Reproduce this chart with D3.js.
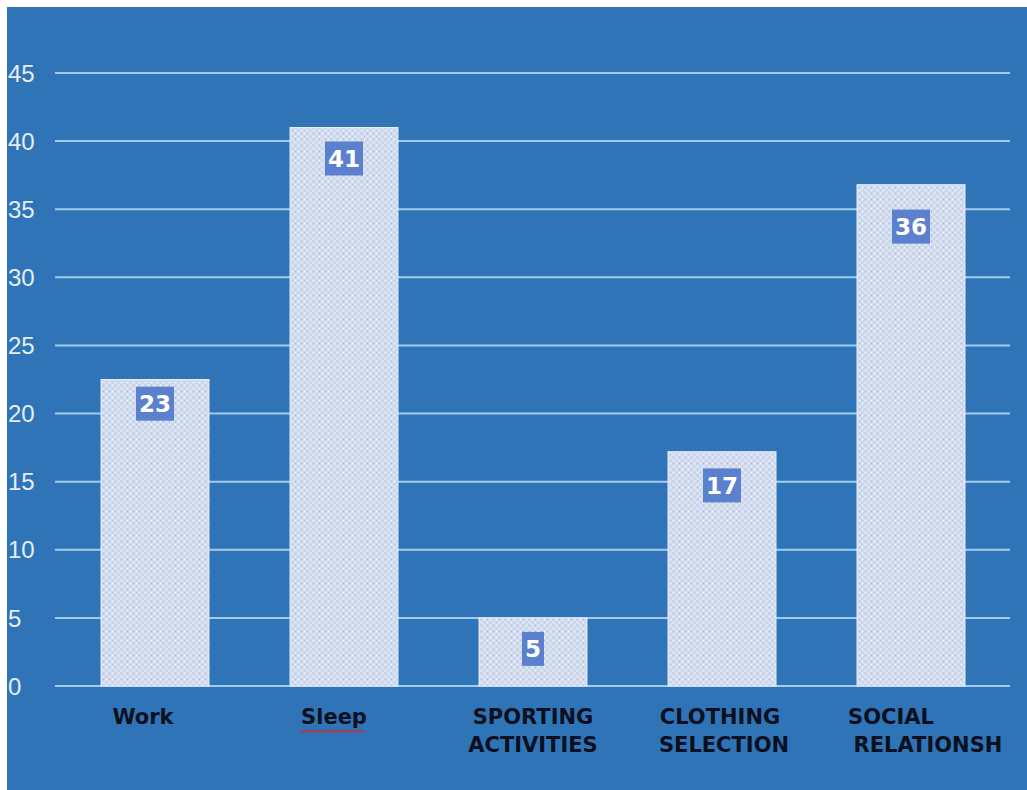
<!DOCTYPE html>
<html><head><meta charset="utf-8">
<script src="https://cdn.jsdelivr.net/npm/d3@7"></script>
<style>html,body{margin:0;padding:0;background:#fff;}svg{display:block;}</style>
</head><body>
<svg id="chart" width="1027" height="790"></svg>
<script>
const categories = ["Work", "Sleep", "SPORTING ACTIVITIES", "CLOTHING SELECTION", "SOCIAL RELATIONSH"];
const categoryLines = [["Work"], ["Sleep"], ["SPORTING", "ACTIVITIES"], ["CLOTHING", "SELECTION"], ["SOCIAL", "RELATIONSH"]];
const values = [22.5, 41, 5, 17.2, 36.8];
const dataLabels = [23, 41, 5, 17, 36];
const yTicks = [0, 5, 10, 15, 20, 25, 30, 35, 40, 45];

const svg = d3.select("#chart");
const W = 1027, H = 790;
svg.append("rect").attr("x", 7).attr("y", 7).attr("width", W - 7).attr("height", H - 7).attr("fill", "#2f74b7");

const defs = svg.append("defs");
const pat = defs.append("pattern").attr("id", "tex").attr("patternUnits", "userSpaceOnUse")
  .attr("width", 6).attr("height", 6);
pat.append("rect").attr("width", 6).attr("height", 6).attr("fill", "#d5deef");
pat.append("circle").attr("cx", 1.5).attr("cy", 1.5).attr("r", 0.9).attr("fill", "#adc0e1");
pat.append("circle").attr("cx", 4.5).attr("cy", 4.5).attr("r", 0.9).attr("fill", "#bccbe6");
pat.append("circle").attr("cx", 4.5).attr("cy", 1.5).attr("r", 0.7).attr("fill", "#f2f5fb");
pat.append("circle").attr("cx", 1.5).attr("cy", 4.5).attr("r", 0.7).attr("fill", "#eef2fa");

const y = d3.scaleLinear().domain([0, 45]).range([686, 73]);
const x = d3.scaleBand().domain(categories).range([53.75, 1012.25]).paddingInner(0.4286).paddingOuter(0.25);

// gridlines
svg.append("g").selectAll("line").data(yTicks).join("line")
  .attr("x1", 55).attr("x2", 1010)
  .attr("y1", d => y(d)).attr("y2", d => y(d))
  .attr("stroke", "#a3cbef").attr("stroke-width", 2);

// y tick labels
svg.append("g").selectAll("text").data(yTicks).join("text")
  .attr("x", 8).attr("y", d => y(d)).attr("dy", "0.36em")
  .attr("font-family", "Liberation Sans, Arial, sans-serif").attr("font-size", 24)
  .attr("fill", "#e4edf8").text(d => d);

// bars
svg.append("g").selectAll("rect").data(values).join("rect")
  .attr("x", (d, i) => x(categories[i])).attr("width", x.bandwidth())
  .attr("y", d => y(d)).attr("height", d => y(0) - y(d))
  .attr("fill", "url(#tex)").attr("stroke", "#e6ecf7").attr("stroke-width", 1);

// data labels
const lg = svg.append("g");
dataLabels.forEach((v, i) => {
  const cx = x(categories[i]) + x.bandwidth() / 2;
  const cy = y(v) + 31;
  const t = lg.append("text").attr("x", cx).attr("y", cy).attr("dy", "0.37em")
    .attr("text-anchor", "middle").attr("font-family", "DejaVu Sans, sans-serif")
    .attr("font-weight", "bold").attr("font-size", 23).attr("fill", "#ffffff").text(v);
  const bb = t.node().getBBox();
  lg.insert("rect", "text").attr("x", bb.x - 3).attr("y", cy - 17).attr("width", bb.width + 6).attr("height", 34)
    .attr("fill", "#5b80cd");
});

// category labels (per-line horizontal nudges to mimic the original text alignment)
const lineShift = [[-12], [-10], [0, 0], [-2, 2], [-20, 17]];
const cg = svg.append("g");
categoryLines.forEach((lines, i) => {
  const cx = x(categories[i]) + x.bandwidth() / 2;
  lines.forEach((ln, j) => {
    const t = cg.append("text").attr("x", cx + lineShift[i][j]).attr("y", 724 + j * 28)
      .attr("text-anchor", "middle").attr("font-family", "DejaVu Sans, sans-serif")
      .attr("font-weight", "bold").attr("font-size", 21).attr("fill", "#0b1020").text(ln);
    if (ln === "Sleep") {
      const bb = t.node().getBBox();
      const pts = [];
      for (let k = 0; k <= Math.floor(bb.width / 3); k++) pts.push([bb.x + k * 3, 731 + (k % 2 ? 1.5 : -1)]);
      cg.append("path").attr("d", d3.line()(pts)).attr("fill", "none").attr("stroke", "#d9262b").attr("stroke-width", 1.2);
    }
  });
});
</script>
</body></html>
